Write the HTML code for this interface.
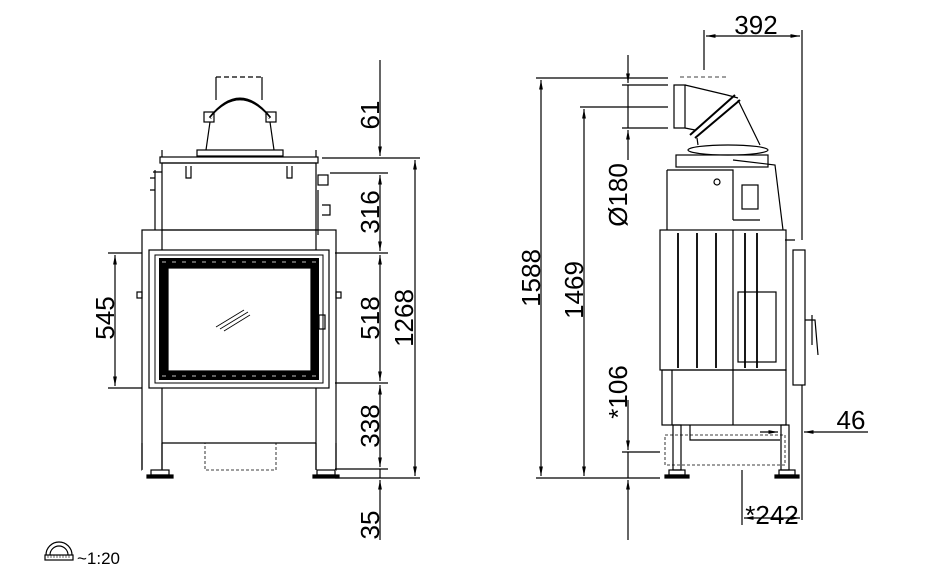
<!DOCTYPE html>
<html><head><style>html,body{margin:0;padding:0;background:#fff}svg{display:block}text{font-family:"Liberation Sans",sans-serif;fill:#000}</style></head><body>
<svg width="950" height="578" viewBox="0 0 950 578" xmlns="http://www.w3.org/2000/svg">
<defs>
<marker id="a" viewBox="0 0 10 10" refX="10" refY="5" markerWidth="8" markerHeight="8" orient="auto-start-reverse"><path d="M0,3 L10,5 L0,7 z" fill="#000"/></marker>
</defs>
<g fill="none" stroke="#000" stroke-width="1.2">
<path d="M216,77 H262" stroke-dasharray="5,3"/>
<path d="M216,77 V100 M262,77 V100"/>
<path d="M210,118 Q240,80 270,118" stroke-width="3"/>
<path d="M211,118 Q240,84 269,118" stroke="#fff" stroke-width="1.2"/>
<rect x="204" y="112" width="10" height="10"/><rect x="266" y="112" width="10" height="10"/>
<path d="M210,122 L206,150 M270,122 L274,150"/>
<rect x="197" y="150" width="86" height="6"/>
<rect x="160" y="157" width="158" height="6"/>
<path d="M162,150 V157 M316,150 V157"/>
<rect x="162" y="163" width="154" height="67"/>
<path d="M186,166 V178 H191 V166 M287,166 V178 H292 V166"/>
<path d="M155,170 V230 M153,172 H162 M150,178 H155 V190 H150"/>
<rect x="318" y="175" width="10" height="10"/><path d="M318,190 V235 M322,205 H330 V215 H322"/>
<rect x="142" y="230" width="194" height="240"/>
<path d="M162,230 V470 M316,230 V470 M162,443 H316"/>
<path d="M142,470 H336" stroke="#fff" stroke-width="2"/>
<path d="M142,443 V470 M162,443 V470 M316,443 V470 M336,443 V470"/>
<rect x="151" y="470" width="18" height="5"/><rect x="147" y="475" width="26" height="3" fill="#000"/>
<rect x="317" y="470" width="18" height="5"/><rect x="313" y="475" width="26" height="3" fill="#000"/>
<rect x="149" y="250" width="180" height="138" fill="#fff"/>
<rect x="155" y="255" width="168" height="128" stroke-width="1"/>
<rect x="159" y="258" width="160" height="122" fill="#000" stroke="none"/>
<rect x="168" y="268" width="143" height="103" fill="#fff"/>
<path d="M162,262 H316" stroke="#fff" stroke-dasharray="4,6" stroke-width="0.8"/>
<path d="M162,376 H316" stroke="#fff" stroke-dasharray="4,6" stroke-width="0.8"/>
<path d="M216,327 L244,310 M220,329 L248,312 M224,331 L250,315" stroke-width="0.8"/>
<rect x="319" y="315" width="6" height="14"/>
<rect x="137" y="292" width="5" height="6"/><rect x="336" y="292" width="5" height="6"/>
<rect x="205" y="443" width="71" height="27" stroke-dasharray="3,2" stroke-width="0.8"/>
<path d="M380,60 V156" marker-end="url(#a)"/>
<path d="M322,158 H420 M330,173 H388 M335,253 H388 M335,383 H388 M335,469 H388 M335,478 H420"/>
<path d="M380,175 V251" marker-start="url(#a)" marker-end="url(#a)"/>
<path d="M380,255 V381" marker-start="url(#a)" marker-end="url(#a)"/>
<path d="M380,385 V467" marker-start="url(#a)" marker-end="url(#a)"/>
<path d="M380,540 V480" marker-end="url(#a)"/>
<path d="M380,478 V469" />
<path d="M415,160 V476" marker-start="url(#a)" marker-end="url(#a)"/>
<path d="M108,253 H142 M108,388 H142"/>
<path d="M115,255 V386" marker-start="url(#a)" marker-end="url(#a)"/>
<path d="M680,77 H727" stroke-dasharray="4,3" stroke-width="0.8"/>
<path d="M674,85 H685 V128 H674 Z"/>
<path d="M685,85 L727,95 L738,98 M685,128 L695,130"/>
<path d="M690,135 L735,95 M695,138 L740,100" stroke-width="2"/>
<path d="M738,100 L760,145 M697,138 L698,145"/>
<ellipse cx="728" cy="150" rx="40" ry="5"/>
<rect x="676" y="155" width="92" height="12"/>
<path d="M667,170 H733 V220 M667,170 V230 M733,160 L775,165 L783,230 M733,220 H760"/>
<rect x="742" y="185" width="16" height="24"/>
<circle cx="717" cy="182" r="3"/>
<rect x="660" y="230" width="126" height="140"/>
<path d="M678,233 V368 M697,233 V368 M716,233 V368 M745,233 V368 M757,233 V368" stroke-width="1.8"/>
<path d="M733,230 V425"/>
<rect x="738" y="292" width="38" height="70"/>
<rect x="662" y="370" width="124" height="55"/>
<path d="M672,370 V425"/>
<rect x="793" y="250" width="12" height="135"/>
<path d="M785,240 H795 M805,320 H815 L818,355 M812,315 V345"/>
<rect x="673" y="425" width="8" height="45"/><rect x="781" y="425" width="8" height="45"/>
<path d="M690,425 V440 H780"/>
<rect x="665" y="435" width="120" height="30" stroke-dasharray="3,2" stroke-width="0.8"/>
<rect x="669" y="470" width="16" height="5"/><rect x="779" y="470" width="16" height="5"/>
<rect x="665" y="475" width="24" height="3" fill="#000"/><rect x="775" y="475" width="24" height="3" fill="#000"/>
<path d="M704,30 V70 M802,30 V240"/>
<path d="M706,36 H800" marker-start="url(#a)" marker-end="url(#a)"/>
<path d="M536,78 H668 M580,107 H668 M622,85 H668 M622,128 H668 M536,478 H660 M622,452 H660"/>
<path d="M541,80 V476" marker-start="url(#a)" marker-end="url(#a)"/>
<path d="M584,109 V476" marker-start="url(#a)" marker-end="url(#a)"/>
<path d="M628,55 V83" marker-end="url(#a)"/>
<path d="M628,160 V130" marker-end="url(#a)"/>
<path d="M628,128 V85"/>
<path d="M628,400 V450" marker-end="url(#a)"/>
<path d="M628,540 V480" marker-end="url(#a)"/>
<path d="M628,452 V478"/>
<path d="M760,432 H778" marker-end="url(#a)"/>
<path d="M868,432 H804" marker-end="url(#a)"/>
<path d="M802,385 V520 M742,470 V525"/>
<path d="M744,518 H800" marker-start="url(#a)" marker-end="url(#a)"/>
<path d="M46,555 A13,13 0 0 1 72,555 M50,555 A9,9 0 0 1 68,555"/>
<rect x="45" y="555" width="28" height="5"/>
<path d="M48,555 V558 M51,555 V558 M54,555 V558 M57,555 V558 M60,555 V558 M63,555 V558 M66,555 V558 M69,555 V558" stroke-width="0.6"/>
</g>
<g font-size="26">
<text transform="translate(379,115) rotate(-90)" text-anchor="middle">61</text>
<text transform="translate(379,212) rotate(-90)" text-anchor="middle">316</text>
<text transform="translate(379,318) rotate(-90)" text-anchor="middle">518</text>
<text transform="translate(379,426) rotate(-90)" text-anchor="middle">338</text>
<text transform="translate(379,525) rotate(-90)" text-anchor="middle">35</text>
<text transform="translate(413,318) rotate(-90)" text-anchor="middle">1268</text>
<text transform="translate(114,318) rotate(-90)" text-anchor="middle">545</text>
<text x="756" y="34" text-anchor="middle">392</text>
<text transform="translate(540,278) rotate(-90)" text-anchor="middle">1588</text>
<text transform="translate(583,290) rotate(-90)" text-anchor="middle">1469</text>
<text transform="translate(627,195) rotate(-90)" text-anchor="middle">Ø180</text>
<text transform="translate(627,392) rotate(-90)" text-anchor="middle">*106</text>
<text x="851" y="429" text-anchor="middle">46</text>
<text x="772" y="524" text-anchor="middle">*242</text>
</g>
<text x="77" y="564" font-size="17">~1:20</text>
</svg>
</body></html>
